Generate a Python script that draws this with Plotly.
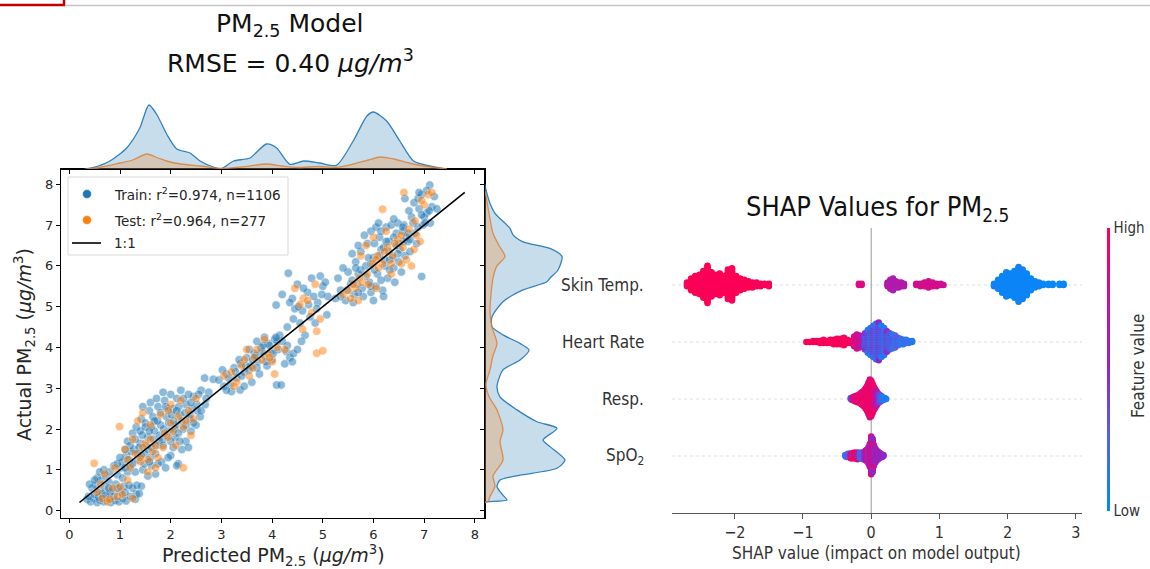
import numpy as np
import plotly.graph_objects as go

W, H = 1150, 569

# ---------------- data: predicted vs actual PM2.5 ----------------
train_pred = [0.35,0.42,0.48,0.55,0.60,0.68,0.75,0.82,0.90,0.98,1.05,1.12,1.20,1.32,1.30,
              0.45,0.52,0.60,0.70,0.78,0.85,0.92,1.00,1.08,0.55,0.62,0.72,0.80,0.95,1.02,0.68,0.88,1.15,0.40,1.25,
              1.05,1.12,1.20,1.28,1.35,1.40,1.48,1.55,1.60,1.68,1.72,1.80,1.85,1.92,1.98,2.05,2.10,2.18,2.25,2.30,2.38,2.45,2.52,2.60,2.68,2.75,
              1.15,1.25,1.32,1.42,1.50,1.58,1.65,1.75,1.88,1.95,2.00,2.12,2.20,2.35,
              1.30,1.45,1.55,1.62,1.70,1.82,1.90,2.00,2.15,2.22,2.30,2.40,2.50,2.58,
              1.38,1.52,1.66,1.78,1.86,1.96,2.06,2.16,2.28,1.22,1.44,1.62,1.74,2.08,2.42,
              2.12,1.33,1.42,2.67,2.84,
              2.95,3.05,3.10,3.18,3.25,3.30,3.38,3.45,3.50,3.58,3.65,3.72,3.78,3.85,3.92,3.98,4.05,4.12,4.20,4.28,4.35,4.42,4.50,
              3.37,3.20,4.09,4.18,3.60,3.75,3.90,4.00,4.25,3.55,3.70,3.85,4.15,3.02,3.45,
              4.32,4.08,4.20,4.40,4.50,4.60,4.70,4.78,4.85,4.90,5.00,5.08,4.55,4.65,4.75,4.45,4.95,5.10,4.30,4.58,
              5.25,5.35,5.45,5.55,5.62,5.70,5.78,5.85,5.92,6.00,6.08,6.15,6.22,6.30,6.38,6.45,6.52,6.60,6.68,6.75,6.82,6.90,6.98,7.05,7.12,
              5.50,5.65,5.75,5.88,5.95,6.05,6.12,6.25,6.35,6.48,6.58,6.70,6.80,6.88,6.95,7.11,7.05,7.20,7.15,6.62,
              5.80,5.95,6.05,6.18,6.28,6.40,6.50,6.62,6.72,6.85,6.95,6.55,6.42,6.00,5.60,6.20,
              5.30,5.40,5.58,5.70,5.82,6.10,6.30,6.22,6.02,5.90,6.45,6.65,7.00,7.25,
              0.38,0.50,0.58,0.65,0.72,0.80,0.88,0.96,1.10,1.18,0.50,0.78,0.60,1.05,0.95,1.38,
              1.10,1.18,1.25,1.35,1.42,1.48,1.55,1.62,1.70,1.78,1.85,1.92,2.00,2.08,2.15,2.22,2.30,2.38,2.45,2.52,2.60,
              1.20,1.30,1.40,1.50,1.58,1.68,1.80,1.90,2.02,2.12,2.25,1.45,1.60,1.72,1.85,2.40,2.55,2.70,
              1.58,1.75,1.95,2.05,2.18,2.35,1.10,1.00,
              3.15,3.28,3.40,3.48,3.62,3.70,3.80,3.88,3.95,4.02,4.10,3.35,3.55,3.68,3.82,4.08,3.10,4.30,4.40,
              4.35,4.52,4.62,4.72,4.82,4.88,4.98,5.05,4.42,
              5.35,5.48,5.58,5.68,5.75,5.85,5.95,6.02,6.12,6.20,6.32,6.40,6.50,6.58,6.68,6.78,6.88,6.95,7.02,
              6.15,6.32,6.48,6.60,6.72,5.95,5.70,6.25,6.15,6.40,6.90,7.10,5.65]
train_act = [0.28,0.22,0.30,0.20,0.26,0.22,0.30,0.20,0.25,0.22,0.30,0.24,0.35,0.40,0.28,
             0.55,0.62,0.48,0.58,0.70,0.50,0.65,0.45,0.60,0.80,0.75,0.85,0.95,0.88,1.05,1.00,1.10,0.95,0.65,0.55,
             1.20,1.35,1.10,1.50,1.25,1.65,1.40,1.80,1.30,1.95,1.60,2.10,1.75,2.30,1.95,2.50,2.10,2.35,2.00,2.60,2.25,2.80,2.45,2.95,2.60,2.90,
             1.70,1.90,2.05,2.25,2.15,2.45,2.30,2.55,2.70,2.50,2.85,2.75,2.95,2.85,
             0.95,1.00,0.85,1.10,0.90,1.20,1.05,1.35,1.15,1.50,1.70,1.95,2.10,2.30,
             1.55,1.60,1.75,1.85,2.00,2.15,2.20,2.55,2.40,1.45,1.85,2.05,2.20,1.80,2.50,
             1.10,0.62,0.60,3.25,3.22,
             3.20,3.05,3.35,3.10,3.50,3.25,3.60,3.40,3.75,3.55,3.85,3.65,4.00,3.80,4.10,3.90,4.20,3.95,4.15,3.90,3.75,3.85,3.95,
             2.96,2.92,3.08,3.08,3.15,3.35,3.55,3.70,3.60,3.95,4.15,4.25,4.30,3.45,3.05,
             5.82,5.04,5.30,5.20,5.55,4.90,5.35,5.70,4.60,5.10,5.50,4.80,4.60,4.30,4.75,4.95,5.75,5.25,4.50,4.15,
             5.20,5.40,5.15,5.55,5.30,5.80,5.45,6.00,5.60,6.20,5.80,6.40,6.00,6.60,6.20,6.80,6.40,7.00,6.60,7.20,6.80,7.40,7.00,7.30,7.05,
             5.85,6.10,6.35,6.55,6.85,6.95,6.70,6.95,7.00,7.05,6.85,7.35,7.55,7.65,7.75,7.98,7.85,7.70,7.45,7.65,
             5.25,5.35,5.50,5.40,5.70,5.95,6.10,6.25,6.35,6.55,5.74,5.85,5.60,5.15,5.10,5.25,
             5.70,5.95,6.30,6.50,6.75,7.05,6.35,6.15,6.55,6.20,6.50,6.70,7.20,7.40,
             0.35,0.40,0.33,0.42,0.38,0.45,0.35,0.55,0.45,0.62,0.75,0.55,0.95,0.80,1.15,0.42,
             1.05,1.25,1.15,1.40,1.35,1.15,1.50,1.55,1.40,1.70,1.60,1.85,1.70,2.00,1.90,2.20,2.10,2.35,2.15,2.60,2.45,
             1.60,1.75,1.95,2.05,1.95,2.20,2.40,2.55,2.35,2.45,2.75,2.55,2.65,2.75,2.90,2.65,2.85,2.75,
             1.20,1.15,1.30,1.55,1.70,1.55,1.50,1.30,
             3.25,3.40,3.30,3.55,3.70,3.50,3.90,3.65,4.05,3.85,4.15,3.70,3.45,3.80,4.05,4.25,2.95,4.05,3.65,
             5.10,5.00,5.45,5.05,5.25,4.95,5.30,5.60,4.70,
             5.25,5.40,5.65,5.55,5.90,5.75,6.05,5.90,6.25,6.45,6.15,6.70,6.55,6.95,6.80,7.05,6.95,7.25,7.05,
             5.65,5.90,6.30,6.60,6.65,5.50,5.35,6.60,6.85,7.15,7.80,7.35,5.95]

test_pred = [0.49,0.55,0.65,0.75,0.85,0.95,1.05,0.62,0.70,1.15,0.90,1.25,
             0.99,1.10,1.20,1.30,1.40,1.50,1.55,1.65,1.75,1.85,1.95,2.05,2.15,2.25,2.35,2.45,2.25,1.35,1.45,1.60,1.80,2.00,2.20,2.50,1.25,1.70,2.10,2.40,1.55,
             3.05,3.20,3.30,3.45,3.55,3.62,3.70,3.80,3.92,4.00,4.10,4.05,3.50,3.85,4.25,4.88,5.00,
             4.55,4.62,4.78,4.88,4.95,4.85,4.70,4.60,4.45,
             5.40,5.55,5.65,5.78,5.88,5.98,6.08,6.18,6.28,6.38,6.48,6.58,6.70,6.82,6.92,7.00,6.18,6.95,7.08,6.60,7.15,
             5.75,5.85,6.00,6.25,5.70,6.05,6.35,6.55,6.80,6.75,6.65,
             0.80,1.00,1.45,1.60,1.70,1.88,1.40,1.15,2.00,2.30,1.95,
             3.40,3.65,3.95,3.25,
             5.50,5.72,5.90,6.10,6.22,6.42,6.55,6.85,5.60,6.35,6.05]
test_act = [1.16,0.45,0.30,0.22,0.55,0.35,0.40,0.65,0.90,0.75,1.05,0.30,
            2.06,1.50,1.05,1.40,1.20,1.65,1.25,1.45,1.30,1.55,1.80,1.95,2.30,2.05,2.45,2.25,1.05,2.20,2.40,2.10,2.35,2.60,2.70,2.75,1.75,1.05,1.60,1.85,0.95,
            3.30,3.40,3.15,3.70,3.30,3.50,3.95,3.70,3.85,3.65,4.00,3.35,3.95,4.20,3.95,3.86,3.92,
            5.05,5.20,4.85,4.40,4.70,5.55,5.15,4.45,5.45,
            5.30,5.20,5.45,5.60,5.80,6.05,6.25,6.05,6.45,6.25,6.65,6.45,6.90,7.10,6.60,7.50,7.39,7.60,7.75,7.80,7.80,
            6.25,6.50,6.70,6.85,5.15,5.45,5.80,6.05,6.40,6.00,6.15,
            0.28,0.58,1.55,1.75,1.60,1.90,1.30,1.25,2.15,2.20,2.45,
            3.55,3.75,3.75,3.05,
            5.40,5.70,5.55,5.95,6.35,6.55,6.75,6.75,5.55,6.05,6.15]

one_to_one = [0.2, 7.8]

# marginal densities (relative units)
kde_top_train_x = [0.30,0.44,0.80,1.13,1.39,1.57,1.72,1.92,2.12,2.38,2.58,2.84,3.00,3.24,3.56,3.89,4.09,4.35,4.62,4.94,5.27,5.60,5.87,6.00,6.26,6.52,6.79,7.11,7.31,7.40]
kde_top_train_d = [0,1,8,21,41,64,55,35,20,16,8,2,0.5,8,11,25,21,4.7,8,6,3.7,28,53,57,48,28,8,3,1,0]
kde_top_test_x = [0.35,0.60,1.00,1.25,1.53,1.75,1.92,2.20,2.60,3.00,3.40,3.89,4.20,4.50,4.90,5.27,5.60,5.90,6.13,6.40,6.70,7.00,7.30,7.45]
kde_top_test_d = [0,1.5,6,9,15,11,8,5,3,0.5,2,5,3,1.5,2.5,1.7,5,9,12,10,6,3,1,0]

kde_right_train_y = [8.0,7.97,7.53,7.29,6.92,6.76,6.59,6.43,6.23,5.90,5.70,5.61,5.41,5.12,4.75,4.51,4.31,4.10,3.94,3.69,3.45,3.04,2.79,2.47,2.18,2.02,1.73,1.57,1.24,1.04,0.87,0.75,0.59,0.38,0.26,0.22,0.20]
kde_right_train_d = [0,0,5,10,25,28,38,65,77,73,65,62,38,18,7,7,18,35,44,35,18,12,15,32,52,72,58,65,80,72,35,15,12,18,22,2,0]
kde_right_test_y = [7.85,7.8,6.8,6.5,6.23,6.0,5.7,4.9,4.5,4.1,3.8,3.45,3.1,2.8,2.47,1.98,1.7,1.24,0.85,0.6,0.35,0.22,0.2]
kde_right_test_d = [0,0.5,8,14,20,12,8,5,7,12,8,5,1,4,12,18,15,18,8,10,5,3,0]

# ---------------- data: SHAP summary (binned shap value, count, feature values) ----------------
shap_features = ["SpO<sub>2</sub>", "Resp.", "Heart Rate", "Skin Temp."]

skin_vals = [-2.70,-2.64,-2.58,-2.52,-2.46,-2.40,-2.34,-2.28,-2.22,-2.16,-2.10,-2.04,-1.98,-1.92,-1.86,-1.80,-1.74,-1.68,-1.62,-1.56,-1.50,
             -0.18,-0.14,
             0.24,0.28,0.32,0.36,0.40,0.44,0.48,
             0.66,0.72,0.78,0.84,0.90,0.96,1.02,1.06,
             1.80,1.86,1.92,1.98,2.04,2.10,2.16,2.22,2.28,2.34,2.40,2.46,2.52,2.60,2.66,2.76,2.82]
skin_counts = [4,10,14,16,22,30,20,16,18,14,24,26,14,10,8,6,5,4,3,2,3,
               2,2,
               4,8,10,6,5,4,3,
               2,3,4,6,4,3,2,1,
               3,8,14,20,18,22,28,24,18,10,6,4,2,2,2,2,2]
skin_feat_a = [1.0]*21 + [0.82,0.82] + [0.62]*7 + [0.76]*8 + [0.02]*17
skin_feat_b = [0.96]*21 + [0.82,0.82] + [0.66]*7 + [0.80]*8 + [0.06]*17

hr_vals = [-0.95,-0.90,-0.85,-0.80,-0.75,-0.70,-0.65,-0.60,-0.55,-0.50,-0.45,-0.40,-0.35,-0.30,-0.25,-0.21,-0.17,-0.13,
           -0.09,-0.05,-0.01,0.03,0.07,0.11,0.15,0.19,0.23,0.27,0.31,0.35,0.39,0.43,0.47,0.51,0.55,0.60]
hr_counts = [1,1,2,2,3,4,3,4,5,6,6,8,4,3,10,14,12,8,
             16,22,26,30,34,36,30,26,20,16,14,12,8,6,5,4,3,2]
hr_feat_a = [0.97]*14 + [0.85,0.78,0.88,0.72] + [0.12,0.15,0.10,0.18,0.12,0.15,0.10,0.14,0.12,0.16,0.10,0.14,0.12,0.15,0.10,0.12,0.10,0.12]
hr_feat_b = [0.97]*14 + [0.75,0.85,0.70,0.60] + [0.45,0.50,0.40,0.55,0.35,0.50,0.42,0.30,0.48,0.35,0.40,0.25,0.30,0.20,0.25,0.15,0.20,0.15]

resp_vals = [-0.30,-0.28,-0.26,-0.24,-0.22,-0.20,-0.18,-0.16,-0.14,-0.12,-0.10,-0.08,-0.06,-0.04,-0.02,0.00,0.02,0.04,0.06,0.08,0.10,0.12,0.14,0.16,0.18,0.20,0.22]
resp_counts = [2,3,4,5,6,7,8,10,12,14,16,20,24,30,36,34,28,22,18,14,10,8,6,4,3,2,1]
resp_feat_a = [0.35,0.55,0.75,0.85,0.9,0.8,0.95,0.88,0.97,0.85,0.95,0.9,0.98,0.88,0.96,0.9,0.85,0.95,0.8,0.7,0.6,0.5,0.35,0.15,0.1,0.08,0.1]
resp_feat_b = [0.25,0.45,0.65,0.95,0.8,0.95,0.85,0.97,0.8,0.95,0.85,0.97,0.85,0.95,0.8,0.97,0.95,0.75,0.9,0.6,0.45,0.35,0.25,0.1,0.15,0.05,0.1]

spo2_vals = [-0.38,-0.36,-0.34,-0.32,-0.30,-0.28,-0.26,-0.24,-0.22,-0.20,-0.18,-0.16,-0.14,-0.12,-0.10,-0.08,-0.06,-0.04,-0.02,0.00,0.02,0.04,0.06,0.08,0.10,0.12,0.14,0.16,0.18]
spo2_counts = [2,3,4,4,5,5,6,6,6,7,6,6,6,7,8,10,12,16,22,36,32,20,14,10,8,6,4,3,2]
spo2_feat_a = [0.15,0.2,0.25,0.3,0.85,0.95,0.9,0.95,0.9,0.85,0.6,0.25,0.2,0.3,0.35,0.7,0.75,0.65,0.8,0.7,0.75,0.6,0.55,0.6,0.5,0.55,0.5,0.55,0.5]
spo2_feat_b = [0.1,0.25,0.3,0.2,0.6,0.8,0.3,0.9,0.4,0.95,0.3,0.2,0.35,0.25,0.45,0.5,0.9,0.4,0.6,0.85,0.5,0.8,0.45,0.7,0.6,0.45,0.6,0.5,0.55]

# ---------------- helpers ----------------
def fx(p):
    return p / W

def fy(p):
    return 1 - p / H

def beeswarm(vals, counts, feats_a, feats_b, row, row_height=0.4):
    xs, ys, cs = [], [], []
    for v, c, fa, fb in zip(vals, counts, feats_a, feats_b):
        for k in range(c):
            xs.append(v)
            ys.append(np.ceil(k / 2) * ((k % 2) * 2 - 1))
            cs.append(fa if (k // 2) % 2 == 0 else fb)
    ys = np.array(ys, dtype=float)
    ys *= 0.9 * (row_height / np.max(ys + 1))
    return xs, list(ys + row), cs

DV = "DejaVu Sans"
COND = "DejaVu Sans Condensed, Liberation Sans Narrow, Roboto Condensed, sans-serif"
TXT = "#262626"
BLUE = "#1f77b4"
ORANGE = "#ff7f0e"

fig = go.Figure()

# main scatter
fig.add_trace(go.Scatter(x=train_pred, y=train_act, mode="markers", xaxis="x", yaxis="y",
                         marker=dict(size=8.5, color=BLUE, opacity=0.5, line=dict(color="white", width=0.6)),
                         showlegend=False, hoverinfo="skip"))
fig.add_trace(go.Scatter(x=test_pred, y=test_act, mode="markers", xaxis="x", yaxis="y",
                         marker=dict(size=8.5, color=ORANGE, opacity=0.5, line=dict(color="white", width=0.6)),
                         showlegend=False, hoverinfo="skip"))
fig.add_trace(go.Scatter(x=one_to_one, y=one_to_one, mode="lines", xaxis="x", yaxis="y",
                         line=dict(color="black", width=1.6), showlegend=False, hoverinfo="skip"))

# top marginal
fig.add_trace(go.Scatter(x=kde_top_train_x, y=kde_top_train_d, mode="lines", xaxis="x2", yaxis="y2",
                         fill="tozeroy", fillcolor="rgba(31,119,180,0.25)",
                         line=dict(color="rgba(31,119,180,0.9)", width=1.3, shape="spline", smoothing=0.7),
                         showlegend=False, hoverinfo="skip"))
fig.add_trace(go.Scatter(x=kde_top_test_x, y=kde_top_test_d, mode="lines", xaxis="x2", yaxis="y2",
                         fill="tozeroy", fillcolor="rgba(255,127,14,0.25)",
                         line=dict(color="rgba(215,130,60,0.85)", width=1.3, shape="spline", smoothing=0.7),
                         showlegend=False, hoverinfo="skip"))
# right marginal
fig.add_trace(go.Scatter(x=kde_right_train_d, y=kde_right_train_y, mode="lines", xaxis="x3", yaxis="y3",
                         fill="tozerox", fillcolor="rgba(31,119,180,0.25)",
                         line=dict(color="rgba(31,119,180,0.9)", width=1.3, shape="spline", smoothing=0.7),
                         showlegend=False, hoverinfo="skip"))
fig.add_trace(go.Scatter(x=kde_right_test_d, y=kde_right_test_y, mode="lines", xaxis="x3", yaxis="y3",
                         fill="tozerox", fillcolor="rgba(255,127,14,0.25)",
                         line=dict(color="rgba(215,130,60,0.85)", width=1.3, shape="spline", smoothing=0.7),
                         showlegend=False, hoverinfo="skip"))

# SHAP beeswarm
sx, sy, sc = [], [], []
for vals, cnts, fa, fb, row in [(spo2_vals, spo2_counts, spo2_feat_a, spo2_feat_b, 0),
                                (resp_vals, resp_counts, resp_feat_a, resp_feat_b, 1),
                                (hr_vals, hr_counts, hr_feat_a, hr_feat_b, 2),
                                (skin_vals, skin_counts, skin_feat_a, skin_feat_b, 3)]:
    a, b, c = beeswarm(vals, cnts, fa, fb, row)
    sx += a; sy += b; sc += c

red_blue = [[0.0, "rgb(0,138,250)"], [0.25, "rgb(80,100,230)"], [0.5, "rgb(140,40,200)"],
            [0.75, "rgb(205,15,150)"], [1.0, "rgb(255,0,82)"]]
fig.add_trace(go.Scatter(x=sx, y=sy, mode="markers", xaxis="x4", yaxis="y4",
                         marker=dict(size=6.5, color=sc, colorscale=red_blue, cmin=0, cmax=1,
                                     line=dict(width=0),
                                     showscale=True,
                                     colorbar=dict(x=fx(1107), xanchor="left", y=fy(228), yanchor="top",
                                                   len=(511 - 228) / H, lenmode="fraction",
                                                   thickness=3, outlinewidth=0,
                                                   tickvals=[0, 1], ticktext=["Low", "High"], ticks="",
                                                   tickfont=dict(family=COND, size=15, color="#333333"),
                                                   xpad=0, ypad=0)),
                         showlegend=False, hoverinfo="skip"))

x_dom = [fx(61), fx(485)]
y_dom = [fy(518), fy(169)]

shapes = []
# legend box
shapes.append(dict(type="rect", xref="paper", yref="paper", x0=fx(68), x1=fx(288), y0=fy(255), y1=fy(177),
                   line=dict(color="#d9d9d9", width=1), fillcolor="rgba(255,255,255,0.8)", layer="above"))
for cy, col in [(194, BLUE), (220, ORANGE)]:
    shapes.append(dict(type="circle", xref="paper", yref="paper", x0=fx(82.5), x1=fx(91.5), y0=fy(cy + 4.5), y1=fy(cy - 4.5),
                       line=dict(width=0.6, color="white"), fillcolor=col, layer="above"))
shapes.append(dict(type="line", xref="paper", yref="paper", x0=fx(72), x1=fx(101), y0=fy(243), y1=fy(243),
                   line=dict(color="black", width=1.6), layer="above"))
# SHAP row guides and zero line
for r in range(4):
    shapes.append(dict(type="line", xref="x4 domain", yref="y4", x0=0, x1=1, y0=r, y1=r,
                       line=dict(color="#d4d4d4", width=0.8, dash="dot"), layer="below"))
shapes.append(dict(type="line", xref="x4", yref="y4 domain", x0=0, x1=0, y0=0, y1=1,
                   line=dict(color="#999999", width=1), layer="below"))
# page decorations at top
shapes.append(dict(type="rect", xref="paper", yref="paper", x0=-0.01, x1=fx(64), y0=fy(5), y1=1.02,
                   line=dict(color="#c00000", width=2.5), fillcolor="rgba(0,0,0,0)"))
shapes.append(dict(type="line", xref="paper", yref="paper", x0=fx(65), x1=1.0, y0=fy(5.5), y1=fy(5.5),
                   line=dict(color="#c4c4c4", width=1.5)))

ann = []
def A(text, x, y, size, family=DV, color=TXT, xanchor="center", yanchor="middle", angle=0, xref="paper", yref="paper"):
    ann.append(dict(text=text, x=x, y=y, xref=xref, yref=yref, showarrow=False, xanchor=xanchor, yanchor=yanchor,
                    textangle=angle, font=dict(family=family, size=size, color=color)))

A("PM<sub>2.5</sub> Model", fx(290), fy(25), 25, color="#111111")
A("RMSE = 0.40 <i>μg/m</i><sup>3</sup>", fx(290), fy(62), 25, color="#111111")
A("Predicted PM<sub>2.5</sub> (<i>μg/m</i><sup>3</sup>)", fx(273), fy(555), 19)
A("Actual PM<sub>2.5</sub> (<i>μg/m</i><sup>3</sup>)", fx(24), fy(345), 19, angle=-90)
A("Train: r<sup>2</sup>=0.974, n=1106", fx(112), fy(194), 13.5, xanchor="left")
A("Test: r<sup>2</sup>=0.964, n=277", fx(112), fy(220), 13.5, xanchor="left")
A("1:1", fx(112), fy(243), 13.5, xanchor="left")
A("SHAP Values for PM<sub>2.5</sub>", fx(877), fy(208), 27, family=COND, color="#111111")
A("SHAP value (impact on model output)", fx(876), fy(553), 17, family=COND, color="#333333")
A("Feature value", fx(1138), fy(366), 17, family=COND, color="#333333", angle=-90)
for i, name in enumerate(shap_features):
    A(name, fx(646), i, 17, family=COND, color="#333333", xanchor="right", yref="y4")

axis_common = dict(showgrid=False, zeroline=False)
fig.update_layout(
    width=W, height=H, margin=dict(l=0, r=0, t=0, b=0),
    plot_bgcolor="white", paper_bgcolor="white",
    font=dict(family=DV, color=TXT),
    xaxis=dict(domain=x_dom, range=[-0.164, 8.2], anchor="y", tickvals=list(range(9)),
               showline=True, mirror=True, linecolor="black", linewidth=1,
               ticks="outside", ticklen=4, tickcolor="black", tickfont=dict(size=13, color=TXT), **axis_common),
    yaxis=dict(domain=y_dom, range=[-0.18, 8.375], anchor="x", tickvals=list(range(9)),
               showline=True, mirror=True, linecolor="black", linewidth=1,
               ticks="outside", ticklen=4, tickcolor="black", tickfont=dict(size=13, color=TXT), **axis_common),
    xaxis2=dict(domain=x_dom, range=[-0.164, 8.2], anchor="y2", tickvals=list(range(9)), showticklabels=False,
                showline=True, linecolor="black", linewidth=1, ticks="outside", ticklen=4, tickcolor="black", **axis_common),
    yaxis2=dict(domain=[fy(169), fy(98)], range=[0, 71], anchor="x2", visible=False, **axis_common),
    xaxis3=dict(domain=[fx(485), fx(580)], range=[0, 95], anchor="y3", visible=False, **axis_common),
    yaxis3=dict(domain=y_dom, range=[-0.18, 8.375], anchor="x3", side="left", tickvals=list(range(9)), showticklabels=False,
                showline=True, linecolor="black", linewidth=1, ticks="outside", ticklen=4, tickcolor="black", **axis_common),
    xaxis4=dict(domain=[fx(672), fx(1082)], range=[-2.92, 3.09], anchor="y4", tickvals=[-2, -1, 0, 1, 2, 3],
                showline=True, linecolor="#555555", linewidth=1.3, ticks="outside", ticklen=5, tickcolor="#555555",
                tickfont=dict(family=COND, size=16, color="#333333"), **axis_common),
    yaxis4=dict(domain=[fy(513), fy(228)], range=[-1, 4], anchor="x4", showticklabels=False, ticks="",
                showline=False, **axis_common),
    shapes=shapes, annotations=ann,
)

fig.write_html("out.html")
